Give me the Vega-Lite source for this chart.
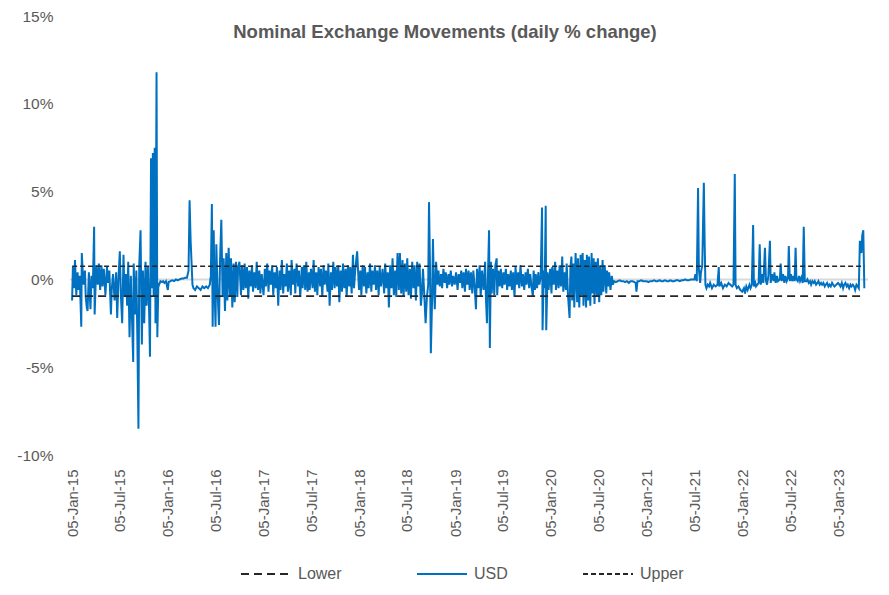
{
  "$schema": "https://vega.github.io/schema/vega-lite/v6.json",
  "autosize": {"type": "none"},
  "width": 798,
  "height": 439,
  "padding": {"left": 70, "top": 16, "right": 21, "bottom": 140},
  "background": "white",
  "title": {
    "text": "Nominal Exchange Movements (daily % change)",
    "font": "Liberation Sans",
    "fontSize": 18.5,
    "fontWeight": "bold",
    "color": "#595959",
    "anchor": "middle",
    "offset": 0,
    "dy": 32,
    "dx": -24
  },
  "datasets": {
    "usd": [
      {"d":"2015-01-05","v":-1.2,"s":"USD"},{"d":"2015-01-08","v":0.7,"s":"USD"},{"d":"2015-01-12","v":-0.5,"s":"USD"},{"d":"2015-01-16","v":1.1,"s":"USD"},{"d":"2015-01-21","v":-0.9,"s":"USD"},{"d":"2015-01-26","v":0.4,"s":"USD"},{"d":"2015-01-29","v":-0.6,"s":"USD"},
      {"d":"2015-02-03","v":0.2,"s":"USD"},{"d":"2015-02-09","v":-2.7,"s":"USD"},{"d":"2015-02-11","v":1.5,"s":"USD"},{"d":"2015-02-17","v":-0.3,"s":"USD"},{"d":"2015-02-23","v":0.5,"s":"USD"},{"d":"2015-02-26","v":-1.0,"s":"USD"},
      {"d":"2015-03-02","v":-1.6,"s":"USD"},{"d":"2015-03-05","v":-1.8,"s":"USD"},{"d":"2015-03-10","v":0.4,"s":"USD"},{"d":"2015-03-16","v":-1.7,"s":"USD"},{"d":"2015-03-20","v":0.2,"s":"USD"},{"d":"2015-03-25","v":-0.5,"s":"USD"},{"d":"2015-03-30","v":3.0,"s":"USD"},
      {"d":"2015-04-01","v":-2.0,"s":"USD"},{"d":"2015-04-07","v":0.8,"s":"USD"},{"d":"2015-04-13","v":-0.3,"s":"USD"},{"d":"2015-04-17","v":0.9,"s":"USD"},{"d":"2015-04-22","v":-0.6,"s":"USD"},{"d":"2015-04-27","v":0.8,"s":"USD"},
      {"d":"2015-05-01","v":-0.4,"s":"USD"},{"d":"2015-05-06","v":0.6,"s":"USD"},{"d":"2015-05-12","v":-0.9,"s":"USD"},{"d":"2015-05-18","v":0.7,"s":"USD"},{"d":"2015-05-22","v":-0.2,"s":"USD"},{"d":"2015-05-27","v":0.5,"s":"USD"},
      {"d":"2015-06-02","v":-2.0,"s":"USD"},{"d":"2015-06-05","v":-0.6,"s":"USD"},{"d":"2015-06-10","v":0.3,"s":"USD"},{"d":"2015-06-16","v":-1.2,"s":"USD"},{"d":"2015-06-22","v":0.4,"s":"USD"},{"d":"2015-06-26","v":-2.2,"s":"USD"},
      {"d":"2015-07-01","v":0.1,"s":"USD"},{"d":"2015-07-06","v":1.6,"s":"USD"},{"d":"2015-07-10","v":-0.9,"s":"USD"},{"d":"2015-07-15","v":-2.5,"s":"USD"},{"d":"2015-07-20","v":1.4,"s":"USD"},{"d":"2015-07-24","v":-1.0,"s":"USD"},{"d":"2015-07-29","v":0.3,"s":"USD"},
      {"d":"2015-08-03","v":-1.5,"s":"USD"},{"d":"2015-08-07","v":1.0,"s":"USD"},{"d":"2015-08-12","v":-3.3,"s":"USD"},{"d":"2015-08-17","v":0.2,"s":"USD"},{"d":"2015-08-21","v":-2.0,"s":"USD"},{"d":"2015-08-26","v":-4.7,"s":"USD"},{"d":"2015-08-28","v":0.9,"s":"USD"},
      {"d":"2015-09-02","v":-2.0,"s":"USD"},{"d":"2015-09-07","v":0.5,"s":"USD"},{"d":"2015-09-11","v":-3.5,"s":"USD"},{"d":"2015-09-15","v":-8.5,"s":"USD"},{"d":"2015-09-18","v":0.8,"s":"USD"},{"d":"2015-09-23","v":2.8,"s":"USD"},{"d":"2015-09-28","v":-3.7,"s":"USD"},
      {"d":"2015-10-02","v":0.5,"s":"USD"},{"d":"2015-10-07","v":-2.5,"s":"USD"},{"d":"2015-10-12","v":1.0,"s":"USD"},{"d":"2015-10-16","v":-1.5,"s":"USD"},{"d":"2015-10-21","v":0.7,"s":"USD"},{"d":"2015-10-26","v":-2.0,"s":"USD"},{"d":"2015-10-29","v":-4.4,"s":"USD"},
      {"d":"2015-11-02","v":6.9,"s":"USD"},{"d":"2015-11-05","v":-0.5,"s":"USD"},{"d":"2015-11-09","v":7.2,"s":"USD"},{"d":"2015-11-12","v":-1.0,"s":"USD"},{"d":"2015-11-16","v":7.5,"s":"USD"},{"d":"2015-11-19","v":-2.5,"s":"USD"},{"d":"2015-11-23","v":11.8,"s":"USD"},{"d":"2015-11-26","v":-3.3,"s":"USD"},{"d":"2015-11-30","v":-0.2,"s":"USD"},
      {"d":"2015-12-03","v":-0.3,"s":"USD"},{"d":"2015-12-08","v":-0.1,"s":"USD"},{"d":"2015-12-14","v":-0.15,"s":"USD"},{"d":"2015-12-18","v":-0.1,"s":"USD"},{"d":"2015-12-23","v":-0.2,"s":"USD"},{"d":"2015-12-29","v":-0.1,"s":"USD"},
      {"d":"2016-01-05","v":-0.6,"s":"USD"},{"d":"2016-01-08","v":-0.15,"s":"USD"},{"d":"2016-01-15","v":-0.1,"s":"USD"},{"d":"2016-01-22","v":-0.05,"s":"USD"},{"d":"2016-01-29","v":-0.1,"s":"USD"},
      {"d":"2016-02-05","v":0.0,"s":"USD"},{"d":"2016-02-12","v":-0.05,"s":"USD"},{"d":"2016-02-19","v":0.0,"s":"USD"},{"d":"2016-02-26","v":0.05,"s":"USD"},
      {"d":"2016-03-04","v":0.05,"s":"USD"},{"d":"2016-03-11","v":0.1,"s":"USD"},{"d":"2016-03-18","v":0.1,"s":"USD"},{"d":"2016-03-24","v":0.5,"s":"USD"},{"d":"2016-03-28","v":4.5,"s":"USD"},
      {"d":"2016-04-01","v":2.2,"s":"USD"},{"d":"2016-04-05","v":0.8,"s":"USD"},{"d":"2016-04-08","v":-0.3,"s":"USD"},{"d":"2016-04-12","v":-0.5,"s":"USD"},{"d":"2016-04-18","v":-0.6,"s":"USD"},{"d":"2016-04-25","v":-0.4,"s":"USD"},
      {"d":"2016-05-02","v":-0.5,"s":"USD"},{"d":"2016-05-09","v":-0.6,"s":"USD"},{"d":"2016-05-16","v":-0.4,"s":"USD"},{"d":"2016-05-23","v":-0.5,"s":"USD"},{"d":"2016-05-30","v":-0.4,"s":"USD"},
      {"d":"2016-06-06","v":-0.5,"s":"USD"},{"d":"2016-06-13","v":-0.3,"s":"USD"},{"d":"2016-06-17","v":0.2,"s":"USD"},{"d":"2016-06-21","v":4.3,"s":"USD"},{"d":"2016-06-24","v":-2.7,"s":"USD"},{"d":"2016-06-28","v":2.8,"s":"USD"},
      {"d":"2016-07-01","v":-0.5,"s":"USD"},{"d":"2016-07-05","v":-2.7,"s":"USD"},{"d":"2016-07-08","v":2.0,"s":"USD"},{"d":"2016-07-13","v":-0.8,"s":"USD"},{"d":"2016-07-18","v":-2.6,"s":"USD"},{"d":"2016-07-22","v":1.0,"s":"USD"},{"d":"2016-07-27","v":3.4,"s":"USD"},
      {"d":"2016-08-01","v":-1.0,"s":"USD"},{"d":"2016-08-05","v":1.2,"s":"USD"},{"d":"2016-08-10","v":-1.8,"s":"USD"},{"d":"2016-08-15","v":1.5,"s":"USD"},{"d":"2016-08-19","v":-1.2,"s":"USD"},{"d":"2016-08-24","v":1.8,"s":"USD"},{"d":"2016-08-29","v":-1.0,"s":"USD"},
      {"d":"2016-09-02","v":1.2,"s":"USD"},{"d":"2016-09-07","v":-1.6,"s":"USD"},{"d":"2016-09-12","v":0.9,"s":"USD"},{"d":"2016-09-16","v":-1.3,"s":"USD"},{"d":"2016-09-21","v":1.0,"s":"USD"},{"d":"2016-09-26","v":-1.0,"s":"USD"},{"d":"2016-09-29","v":0.7,"s":"USD"},
      {"d":"2016-10-04","v":1.0,"s":"USD"},{"d":"2016-10-10","v":-0.9,"s":"USD"},{"d":"2016-10-14","v":0.8,"s":"USD"},{"d":"2016-10-19","v":-0.6,"s":"USD"},{"d":"2016-10-24","v":0.9,"s":"USD"},{"d":"2016-10-28","v":-0.5,"s":"USD"},
      {"d":"2016-11-02","v":0.7,"s":"USD"},{"d":"2016-11-07","v":-1.1,"s":"USD"},{"d":"2016-11-11","v":0.5,"s":"USD"},{"d":"2016-11-16","v":-0.4,"s":"USD"},{"d":"2016-11-21","v":0.8,"s":"USD"},{"d":"2016-11-25","v":-0.7,"s":"USD"},{"d":"2016-11-30","v":0.4,"s":"USD"},
      {"d":"2016-12-05","v":-0.5,"s":"USD"},{"d":"2016-12-09","v":1.0,"s":"USD"},{"d":"2016-12-14","v":-0.6,"s":"USD"},{"d":"2016-12-19","v":0.5,"s":"USD"},{"d":"2016-12-23","v":-0.8,"s":"USD"},{"d":"2016-12-28","v":0.3,"s":"USD"},
      {"d":"2017-01-04","v":-0.9,"s":"USD"},{"d":"2017-01-09","v":0.6,"s":"USD"},{"d":"2017-01-13","v":-0.4,"s":"USD"},{"d":"2017-01-18","v":0.9,"s":"USD"},{"d":"2017-01-23","v":-0.7,"s":"USD"},{"d":"2017-01-27","v":0.5,"s":"USD"},
      {"d":"2017-02-01","v":-0.3,"s":"USD"},{"d":"2017-02-06","v":0.8,"s":"USD"},{"d":"2017-02-10","v":-0.9,"s":"USD"},{"d":"2017-02-15","v":0.4,"s":"USD"},{"d":"2017-02-20","v":-0.5,"s":"USD"},{"d":"2017-02-24","v":0.7,"s":"USD"},
      {"d":"2017-03-01","v":-1.5,"s":"USD"},{"d":"2017-03-06","v":0.5,"s":"USD"},{"d":"2017-03-10","v":-0.6,"s":"USD"},{"d":"2017-03-15","v":1.1,"s":"USD"},{"d":"2017-03-20","v":-0.8,"s":"USD"},{"d":"2017-03-24","v":0.3,"s":"USD"},{"d":"2017-03-29","v":-0.4,"s":"USD"},
      {"d":"2017-04-03","v":0.9,"s":"USD"},{"d":"2017-04-07","v":-0.7,"s":"USD"},{"d":"2017-04-12","v":0.5,"s":"USD"},{"d":"2017-04-18","v":-0.9,"s":"USD"},{"d":"2017-04-21","v":1.1,"s":"USD"},{"d":"2017-04-26","v":-0.3,"s":"USD"},
      {"d":"2017-05-02","v":0.6,"s":"USD"},{"d":"2017-05-05","v":-0.8,"s":"USD"},{"d":"2017-05-10","v":0.9,"s":"USD"},{"d":"2017-05-16","v":-0.4,"s":"USD"},{"d":"2017-05-19","v":0.5,"s":"USD"},{"d":"2017-05-24","v":-1.0,"s":"USD"},{"d":"2017-05-30","v":0.7,"s":"USD"},
      {"d":"2017-06-02","v":-0.5,"s":"USD"},{"d":"2017-06-07","v":0.8,"s":"USD"},{"d":"2017-06-12","v":-0.6,"s":"USD"},{"d":"2017-06-16","v":1.0,"s":"USD"},{"d":"2017-06-21","v":-0.7,"s":"USD"},{"d":"2017-06-26","v":0.4,"s":"USD"},{"d":"2017-06-29","v":-0.6,"s":"USD"},
      {"d":"2017-07-04","v":0.6,"s":"USD"},{"d":"2017-07-10","v":-0.5,"s":"USD"},{"d":"2017-07-14","v":1.1,"s":"USD"},{"d":"2017-07-19","v":-0.7,"s":"USD"},{"d":"2017-07-24","v":0.4,"s":"USD"},{"d":"2017-07-28","v":-0.9,"s":"USD"},
      {"d":"2017-08-02","v":0.7,"s":"USD"},{"d":"2017-08-08","v":-0.4,"s":"USD"},{"d":"2017-08-11","v":0.6,"s":"USD"},{"d":"2017-08-16","v":-1.0,"s":"USD"},{"d":"2017-08-21","v":0.8,"s":"USD"},{"d":"2017-08-25","v":-0.3,"s":"USD"},{"d":"2017-08-30","v":0.5,"s":"USD"},
      {"d":"2017-09-05","v":-0.7,"s":"USD"},{"d":"2017-09-08","v":0.9,"s":"USD"},{"d":"2017-09-13","v":-1.5,"s":"USD"},{"d":"2017-09-18","v":0.4,"s":"USD"},{"d":"2017-09-22","v":-0.6,"s":"USD"},{"d":"2017-09-27","v":1.0,"s":"USD"},
      {"d":"2017-10-02","v":-0.5,"s":"USD"},{"d":"2017-10-06","v":0.7,"s":"USD"},{"d":"2017-10-11","v":-0.4,"s":"USD"},{"d":"2017-10-16","v":0.8,"s":"USD"},{"d":"2017-10-20","v":-1.3,"s":"USD"},{"d":"2017-10-25","v":0.5,"s":"USD"},{"d":"2017-10-30","v":-0.7,"s":"USD"},
      {"d":"2017-11-03","v":0.9,"s":"USD"},{"d":"2017-11-08","v":-0.5,"s":"USD"},{"d":"2017-11-13","v":0.6,"s":"USD"},{"d":"2017-11-17","v":-1.0,"s":"USD"},{"d":"2017-11-22","v":0.8,"s":"USD"},{"d":"2017-11-27","v":-0.4,"s":"USD"},
      {"d":"2017-12-01","v":0.7,"s":"USD"},{"d":"2017-12-06","v":-0.8,"s":"USD"},{"d":"2017-12-11","v":1.4,"s":"USD"},{"d":"2017-12-15","v":-0.5,"s":"USD"},{"d":"2017-12-20","v":0.6,"s":"USD"},{"d":"2017-12-27","v":1.6,"s":"USD"},
      {"d":"2018-01-03","v":-0.6,"s":"USD"},{"d":"2018-01-08","v":0.5,"s":"USD"},{"d":"2018-01-12","v":-0.9,"s":"USD"},{"d":"2018-01-17","v":0.8,"s":"USD"},{"d":"2018-01-22","v":-0.4,"s":"USD"},{"d":"2018-01-26","v":0.7,"s":"USD"},{"d":"2018-01-31","v":-0.8,"s":"USD"},
      {"d":"2018-02-05","v":0.4,"s":"USD"},{"d":"2018-02-09","v":-0.5,"s":"USD"},{"d":"2018-02-14","v":0.9,"s":"USD"},{"d":"2018-02-19","v":-0.7,"s":"USD"},{"d":"2018-02-23","v":0.5,"s":"USD"},{"d":"2018-02-28","v":-0.3,"s":"USD"},
      {"d":"2018-03-05","v":0.8,"s":"USD"},{"d":"2018-03-09","v":-0.6,"s":"USD"},{"d":"2018-03-14","v":0.5,"s":"USD"},{"d":"2018-03-19","v":-0.9,"s":"USD"},{"d":"2018-03-23","v":0.7,"s":"USD"},{"d":"2018-03-28","v":-0.4,"s":"USD"},
      {"d":"2018-04-03","v":0.6,"s":"USD"},{"d":"2018-04-09","v":-0.8,"s":"USD"},{"d":"2018-04-13","v":0.9,"s":"USD"},{"d":"2018-04-18","v":-0.5,"s":"USD"},{"d":"2018-04-23","v":0.4,"s":"USD"},{"d":"2018-04-27","v":-1.6,"s":"USD"},
      {"d":"2018-05-02","v":0.8,"s":"USD"},{"d":"2018-05-07","v":-0.5,"s":"USD"},{"d":"2018-05-11","v":1.2,"s":"USD"},{"d":"2018-05-16","v":-0.9,"s":"USD"},{"d":"2018-05-21","v":0.5,"s":"USD"},{"d":"2018-05-25","v":-1.0,"s":"USD"},{"d":"2018-05-30","v":1.5,"s":"USD"},
      {"d":"2018-06-04","v":-0.6,"s":"USD"},{"d":"2018-06-08","v":1.5,"s":"USD"},{"d":"2018-06-13","v":-0.8,"s":"USD"},{"d":"2018-06-18","v":1.1,"s":"USD"},{"d":"2018-06-22","v":-1.0,"s":"USD"},{"d":"2018-06-27","v":0.9,"s":"USD"},
      {"d":"2018-07-02","v":-0.7,"s":"USD"},{"d":"2018-07-06","v":1.2,"s":"USD"},{"d":"2018-07-11","v":-0.9,"s":"USD"},{"d":"2018-07-16","v":0.6,"s":"USD"},{"d":"2018-07-20","v":-1.1,"s":"USD"},{"d":"2018-07-25","v":1.0,"s":"USD"},{"d":"2018-07-30","v":-0.5,"s":"USD"},
      {"d":"2018-08-03","v":0.8,"s":"USD"},{"d":"2018-08-08","v":-1.2,"s":"USD"},{"d":"2018-08-13","v":1.0,"s":"USD"},{"d":"2018-08-17","v":-0.4,"s":"USD"},{"d":"2018-08-22","v":0.9,"s":"USD"},{"d":"2018-08-27","v":-1.5,"s":"USD"},{"d":"2018-08-31","v":-0.8,"s":"USD"},
      {"d":"2018-09-04","v":0.6,"s":"USD"},{"d":"2018-09-10","v":-1.2,"s":"USD"},{"d":"2018-09-14","v":-2.5,"s":"USD"},{"d":"2018-09-19","v":-1.0,"s":"USD"},{"d":"2018-09-24","v":-0.3,"s":"USD"},{"d":"2018-09-27","v":4.4,"s":"USD"},
      {"d":"2018-10-01","v":0.5,"s":"USD"},{"d":"2018-10-04","v":-4.2,"s":"USD"},{"d":"2018-10-09","v":-1.0,"s":"USD"},{"d":"2018-10-12","v":2.3,"s":"USD"},{"d":"2018-10-16","v":-0.5,"s":"USD"},{"d":"2018-10-19","v":-1.7,"s":"USD"},{"d":"2018-10-24","v":1.0,"s":"USD"},{"d":"2018-10-29","v":-0.3,"s":"USD"},
      {"d":"2018-11-02","v":0.5,"s":"USD"},{"d":"2018-11-07","v":-0.4,"s":"USD"},{"d":"2018-11-12","v":0.3,"s":"USD"},{"d":"2018-11-16","v":-0.5,"s":"USD"},{"d":"2018-11-21","v":0.6,"s":"USD"},{"d":"2018-11-26","v":-0.2,"s":"USD"},{"d":"2018-11-30","v":0.4,"s":"USD"},
      {"d":"2018-12-05","v":-0.5,"s":"USD"},{"d":"2018-12-10","v":0.3,"s":"USD"},{"d":"2018-12-14","v":-0.3,"s":"USD"},{"d":"2018-12-19","v":0.5,"s":"USD"},{"d":"2018-12-24","v":-0.4,"s":"USD"},{"d":"2018-12-28","v":0.2,"s":"USD"},
      {"d":"2019-01-03","v":-0.3,"s":"USD"},{"d":"2019-01-08","v":0.4,"s":"USD"},{"d":"2019-01-14","v":-0.6,"s":"USD"},{"d":"2019-01-18","v":0.3,"s":"USD"},{"d":"2019-01-23","v":-0.2,"s":"USD"},{"d":"2019-01-28","v":0.5,"s":"USD"},
      {"d":"2019-02-01","v":-0.5,"s":"USD"},{"d":"2019-02-06","v":0.4,"s":"USD"},{"d":"2019-02-11","v":-0.7,"s":"USD"},{"d":"2019-02-15","v":0.6,"s":"USD"},{"d":"2019-02-20","v":-0.3,"s":"USD"},{"d":"2019-02-25","v":0.5,"s":"USD"},
      {"d":"2019-03-01","v":-0.6,"s":"USD"},{"d":"2019-03-06","v":0.4,"s":"USD"},{"d":"2019-03-11","v":-0.8,"s":"USD"},{"d":"2019-03-15","v":0.5,"s":"USD"},{"d":"2019-03-20","v":-0.4,"s":"USD"},{"d":"2019-03-25","v":-1.7,"s":"USD"},{"d":"2019-03-29","v":0.6,"s":"USD"},
      {"d":"2019-04-03","v":-0.5,"s":"USD"},{"d":"2019-04-08","v":0.8,"s":"USD"},{"d":"2019-04-12","v":-1.0,"s":"USD"},{"d":"2019-04-17","v":0.5,"s":"USD"},{"d":"2019-04-23","v":-0.6,"s":"USD"},{"d":"2019-04-29","v":1.0,"s":"USD"},
      {"d":"2019-05-02","v":-1.0,"s":"USD"},{"d":"2019-05-06","v":-2.5,"s":"USD"},{"d":"2019-05-10","v":0.4,"s":"USD"},{"d":"2019-05-14","v":2.8,"s":"USD"},{"d":"2019-05-17","v":-3.9,"s":"USD"},{"d":"2019-05-21","v":1.0,"s":"USD"},{"d":"2019-05-24","v":-0.8,"s":"USD"},{"d":"2019-05-29","v":0.6,"s":"USD"},
      {"d":"2019-06-03","v":-0.9,"s":"USD"},{"d":"2019-06-07","v":0.8,"s":"USD"},{"d":"2019-06-12","v":1.2,"s":"USD"},{"d":"2019-06-14","v":-0.9,"s":"USD"},{"d":"2019-06-19","v":0.5,"s":"USD"},{"d":"2019-06-24","v":-0.4,"s":"USD"},{"d":"2019-06-28","v":0.6,"s":"USD"},
      {"d":"2019-07-03","v":-0.5,"s":"USD"},{"d":"2019-07-08","v":0.4,"s":"USD"},{"d":"2019-07-12","v":-0.3,"s":"USD"},{"d":"2019-07-17","v":0.6,"s":"USD"},{"d":"2019-07-22","v":-0.6,"s":"USD"},{"d":"2019-07-26","v":0.3,"s":"USD"},{"d":"2019-07-31","v":-0.4,"s":"USD"},
      {"d":"2019-08-05","v":0.5,"s":"USD"},{"d":"2019-08-09","v":-0.6,"s":"USD"},{"d":"2019-08-14","v":0.4,"s":"USD"},{"d":"2019-08-19","v":-1.0,"s":"USD"},{"d":"2019-08-23","v":0.7,"s":"USD"},{"d":"2019-08-28","v":-0.3,"s":"USD"},
      {"d":"2019-09-02","v":0.4,"s":"USD"},{"d":"2019-09-06","v":-0.5,"s":"USD"},{"d":"2019-09-11","v":0.8,"s":"USD"},{"d":"2019-09-16","v":-0.4,"s":"USD"},{"d":"2019-09-20","v":0.3,"s":"USD"},{"d":"2019-09-25","v":-0.6,"s":"USD"},{"d":"2019-09-30","v":0.4,"s":"USD"},
      {"d":"2019-10-04","v":-0.3,"s":"USD"},{"d":"2019-10-09","v":0.6,"s":"USD"},{"d":"2019-10-14","v":-0.5,"s":"USD"},{"d":"2019-10-18","v":0.3,"s":"USD"},{"d":"2019-10-23","v":-0.4,"s":"USD"},{"d":"2019-10-28","v":-1.0,"s":"USD"},{"d":"2019-10-31","v":0.5,"s":"USD"},
      {"d":"2019-11-05","v":-0.6,"s":"USD"},{"d":"2019-11-08","v":0.3,"s":"USD"},{"d":"2019-11-13","v":-0.5,"s":"USD"},{"d":"2019-11-18","v":0.4,"s":"USD"},{"d":"2019-11-22","v":-0.3,"s":"USD"},{"d":"2019-11-27","v":0.2,"s":"USD"},
      {"d":"2019-12-02","v":4.1,"s":"USD"},{"d":"2019-12-04","v":-2.9,"s":"USD"},{"d":"2019-12-09","v":0.5,"s":"USD"},{"d":"2019-12-12","v":-0.5,"s":"USD"},{"d":"2019-12-16","v":4.2,"s":"USD"},{"d":"2019-12-18","v":-2.9,"s":"USD"},{"d":"2019-12-23","v":0.4,"s":"USD"},{"d":"2019-12-27","v":-0.6,"s":"USD"},
      {"d":"2020-01-02","v":0.6,"s":"USD"},{"d":"2020-01-07","v":-0.8,"s":"USD"},{"d":"2020-01-10","v":0.7,"s":"USD"},{"d":"2020-01-15","v":-0.3,"s":"USD"},{"d":"2020-01-21","v":1.0,"s":"USD"},{"d":"2020-01-24","v":-0.6,"s":"USD"},{"d":"2020-01-29","v":0.5,"s":"USD"},
      {"d":"2020-02-03","v":-0.5,"s":"USD"},{"d":"2020-02-07","v":0.8,"s":"USD"},{"d":"2020-02-12","v":-0.4,"s":"USD"},{"d":"2020-02-17","v":1.3,"s":"USD"},{"d":"2020-02-21","v":-0.7,"s":"USD"},{"d":"2020-02-26","v":0.4,"s":"USD"},
      {"d":"2020-03-02","v":-0.6,"s":"USD"},{"d":"2020-03-05","v":0.9,"s":"USD"},{"d":"2020-03-10","v":-0.9,"s":"USD"},{"d":"2020-03-16","v":-2.2,"s":"USD"},{"d":"2020-03-19","v":0.6,"s":"USD"},{"d":"2020-03-23","v":1.3,"s":"USD"},{"d":"2020-03-26","v":-1.2,"s":"USD"},{"d":"2020-03-31","v":0.9,"s":"USD"},
      {"d":"2020-04-03","v":-1.6,"s":"USD"},{"d":"2020-04-08","v":1.5,"s":"USD"},{"d":"2020-04-14","v":-1.3,"s":"USD"},{"d":"2020-04-17","v":1.2,"s":"USD"},{"d":"2020-04-22","v":-1.6,"s":"USD"},{"d":"2020-04-27","v":1.4,"s":"USD"},{"d":"2020-04-30","v":-0.9,"s":"USD"},
      {"d":"2020-05-05","v":1.5,"s":"USD"},{"d":"2020-05-08","v":-1.5,"s":"USD"},{"d":"2020-05-13","v":1.1,"s":"USD"},{"d":"2020-05-18","v":-1.6,"s":"USD"},{"d":"2020-05-21","v":1.4,"s":"USD"},{"d":"2020-05-26","v":-1.2,"s":"USD"},{"d":"2020-05-29","v":1.3,"s":"USD"},
      {"d":"2020-06-03","v":-1.5,"s":"USD"},{"d":"2020-06-08","v":1.5,"s":"USD"},{"d":"2020-06-11","v":-0.8,"s":"USD"},{"d":"2020-06-16","v":1.2,"s":"USD"},{"d":"2020-06-19","v":-1.4,"s":"USD"},{"d":"2020-06-24","v":1.0,"s":"USD"},{"d":"2020-06-29","v":-1.0,"s":"USD"},
      {"d":"2020-07-02","v":1.2,"s":"USD"},{"d":"2020-07-07","v":-1.3,"s":"USD"},{"d":"2020-07-10","v":0.8,"s":"USD"},{"d":"2020-07-15","v":-0.9,"s":"USD"},{"d":"2020-07-20","v":1.1,"s":"USD"},{"d":"2020-07-23","v":-0.7,"s":"USD"},{"d":"2020-07-28","v":0.8,"s":"USD"},
      {"d":"2020-08-03","v":-0.8,"s":"USD"},{"d":"2020-08-06","v":0.5,"s":"USD"},{"d":"2020-08-11","v":-0.4,"s":"USD"},{"d":"2020-08-14","v":0.4,"s":"USD"},{"d":"2020-08-19","v":-0.6,"s":"USD"},{"d":"2020-08-24","v":0.2,"s":"USD"},{"d":"2020-08-28","v":-0.3,"s":"USD"},
      {"d":"2020-09-02","v":-0.1,"s":"USD"},{"d":"2020-09-09","v":-0.15,"s":"USD"},{"d":"2020-09-16","v":-0.1,"s":"USD"},{"d":"2020-09-23","v":-0.05,"s":"USD"},{"d":"2020-09-30","v":-0.1,"s":"USD"},
      {"d":"2020-10-07","v":-0.1,"s":"USD"},{"d":"2020-10-14","v":-0.15,"s":"USD"},{"d":"2020-10-21","v":-0.1,"s":"USD"},{"d":"2020-10-28","v":-0.2,"s":"USD"},
      {"d":"2020-11-04","v":-0.1,"s":"USD"},{"d":"2020-11-11","v":-0.1,"s":"USD"},{"d":"2020-11-18","v":-0.15,"s":"USD"},{"d":"2020-11-23","v":-0.2,"s":"USD"},{"d":"2020-11-26","v":-0.7,"s":"USD"},{"d":"2020-11-30","v":-0.1,"s":"USD"},
      {"d":"2020-12-07","v":-0.1,"s":"USD"},{"d":"2020-12-14","v":-0.05,"s":"USD"},{"d":"2020-12-21","v":-0.1,"s":"USD"},{"d":"2020-12-28","v":-0.1,"s":"USD"},
      {"d":"2021-01-04","v":-0.1,"s":"USD"},{"d":"2021-01-11","v":-0.15,"s":"USD"},{"d":"2021-01-18","v":-0.1,"s":"USD"},{"d":"2021-01-25","v":-0.1,"s":"USD"},
      {"d":"2021-02-01","v":-0.05,"s":"USD"},{"d":"2021-02-08","v":-0.1,"s":"USD"},{"d":"2021-02-15","v":-0.1,"s":"USD"},{"d":"2021-02-22","v":-0.05,"s":"USD"},
      {"d":"2021-03-01","v":-0.1,"s":"USD"},{"d":"2021-03-08","v":-0.1,"s":"USD"},{"d":"2021-03-15","v":-0.05,"s":"USD"},{"d":"2021-03-22","v":-0.1,"s":"USD"},{"d":"2021-03-29","v":-0.1,"s":"USD"},
      {"d":"2021-04-05","v":-0.05,"s":"USD"},{"d":"2021-04-12","v":-0.1,"s":"USD"},{"d":"2021-04-19","v":-0.1,"s":"USD"},{"d":"2021-04-26","v":-0.05,"s":"USD"},
      {"d":"2021-05-03","v":-0.05,"s":"USD"},{"d":"2021-05-10","v":-0.1,"s":"USD"},{"d":"2021-05-17","v":-0.05,"s":"USD"},{"d":"2021-05-24","v":-0.05,"s":"USD"},{"d":"2021-05-31","v":0.0,"s":"USD"},
      {"d":"2021-06-07","v":-0.05,"s":"USD"},{"d":"2021-06-14","v":-0.05,"s":"USD"},{"d":"2021-06-21","v":0.0,"s":"USD"},{"d":"2021-06-28","v":0.0,"s":"USD"},
      {"d":"2021-07-05","v":0.0,"s":"USD"},{"d":"2021-07-09","v":0.3,"s":"USD"},{"d":"2021-07-14","v":-0.1,"s":"USD"},{"d":"2021-07-19","v":5.2,"s":"USD"},{"d":"2021-07-22","v":0.6,"s":"USD"},{"d":"2021-07-27","v":-0.2,"s":"USD"},{"d":"2021-07-30","v":0.4,"s":"USD"},
      {"d":"2021-08-04","v":0.8,"s":"USD"},{"d":"2021-08-10","v":5.5,"s":"USD"},{"d":"2021-08-13","v":2.2,"s":"USD"},{"d":"2021-08-16","v":-0.3,"s":"USD"},{"d":"2021-08-20","v":-0.5,"s":"USD"},{"d":"2021-08-25","v":-0.3,"s":"USD"},{"d":"2021-08-30","v":-0.4,"s":"USD"},
      {"d":"2021-09-03","v":-0.2,"s":"USD"},{"d":"2021-09-10","v":-0.5,"s":"USD"},{"d":"2021-09-17","v":-0.3,"s":"USD"},{"d":"2021-09-24","v":-0.4,"s":"USD"},
      {"d":"2021-10-01","v":-0.3,"s":"USD"},{"d":"2021-10-06","v":0.7,"s":"USD"},{"d":"2021-10-08","v":-0.4,"s":"USD"},{"d":"2021-10-15","v":-0.2,"s":"USD"},{"d":"2021-10-22","v":-0.5,"s":"USD"},{"d":"2021-10-29","v":-0.3,"s":"USD"},
      {"d":"2021-11-05","v":-0.4,"s":"USD"},{"d":"2021-11-12","v":-0.2,"s":"USD"},{"d":"2021-11-19","v":-0.3,"s":"USD"},{"d":"2021-11-26","v":-0.4,"s":"USD"},
      {"d":"2021-12-01","v":-0.3,"s":"USD"},{"d":"2021-12-06","v":6.0,"s":"USD"},{"d":"2021-12-09","v":-0.3,"s":"USD"},{"d":"2021-12-14","v":-0.5,"s":"USD"},{"d":"2021-12-20","v":-0.4,"s":"USD"},{"d":"2021-12-27","v":-0.6,"s":"USD"},
      {"d":"2022-01-03","v":-0.7,"s":"USD"},{"d":"2022-01-10","v":-0.5,"s":"USD"},{"d":"2022-01-14","v":-0.8,"s":"USD"},{"d":"2022-01-19","v":-0.4,"s":"USD"},{"d":"2022-01-24","v":-0.6,"s":"USD"},{"d":"2022-01-31","v":-0.3,"s":"USD"},
      {"d":"2022-02-04","v":-0.5,"s":"USD"},{"d":"2022-02-09","v":-0.3,"s":"USD"},{"d":"2022-02-14","v":3.1,"s":"USD"},{"d":"2022-02-17","v":-0.4,"s":"USD"},{"d":"2022-02-22","v":-0.2,"s":"USD"},{"d":"2022-02-25","v":-0.4,"s":"USD"},
      {"d":"2022-03-02","v":-0.3,"s":"USD"},{"d":"2022-03-07","v":-0.2,"s":"USD"},{"d":"2022-03-11","v":2.0,"s":"USD"},{"d":"2022-03-15","v":-0.3,"s":"USD"},{"d":"2022-03-21","v":0.3,"s":"USD"},{"d":"2022-03-25","v":-0.2,"s":"USD"},{"d":"2022-03-31","v":1.8,"s":"USD"},
      {"d":"2022-04-04","v":-0.1,"s":"USD"},{"d":"2022-04-08","v":-0.3,"s":"USD"},{"d":"2022-04-13","v":0.2,"s":"USD"},{"d":"2022-04-19","v":2.2,"s":"USD"},{"d":"2022-04-22","v":-0.2,"s":"USD"},{"d":"2022-04-27","v":0.3,"s":"USD"},
      {"d":"2022-05-03","v":-0.1,"s":"USD"},{"d":"2022-05-06","v":0.4,"s":"USD"},{"d":"2022-05-11","v":-0.2,"s":"USD"},{"d":"2022-05-16","v":0.2,"s":"USD"},{"d":"2022-05-20","v":-0.1,"s":"USD"},{"d":"2022-05-27","v":0.0,"s":"USD"},{"d":"2022-05-30","v":0.9,"s":"USD"},
      {"d":"2022-06-03","v":-0.1,"s":"USD"},{"d":"2022-06-08","v":0.3,"s":"USD"},{"d":"2022-06-13","v":-0.2,"s":"USD"},{"d":"2022-06-17","v":0.2,"s":"USD"},{"d":"2022-06-22","v":-0.1,"s":"USD"},{"d":"2022-06-27","v":0.1,"s":"USD"},{"d":"2022-06-30","v":1.9,"s":"USD"},
      {"d":"2022-07-04","v":-0.1,"s":"USD"},{"d":"2022-07-08","v":0.3,"s":"USD"},{"d":"2022-07-13","v":-0.1,"s":"USD"},{"d":"2022-07-18","v":0.2,"s":"USD"},{"d":"2022-07-22","v":-0.1,"s":"USD"},{"d":"2022-07-26","v":1.8,"s":"USD"},{"d":"2022-07-29","v":0.0,"s":"USD"},
      {"d":"2022-08-03","v":-0.1,"s":"USD"},{"d":"2022-08-08","v":0.2,"s":"USD"},{"d":"2022-08-12","v":-0.1,"s":"USD"},{"d":"2022-08-17","v":0.1,"s":"USD"},{"d":"2022-08-22","v":-0.2,"s":"USD"},{"d":"2022-08-26","v":3.0,"s":"USD"},{"d":"2022-08-30","v":-0.1,"s":"USD"},
      {"d":"2022-09-05","v":-0.1,"s":"USD"},{"d":"2022-09-09","v":0.0,"s":"USD"},{"d":"2022-09-14","v":-0.2,"s":"USD"},{"d":"2022-09-19","v":-0.1,"s":"USD"},{"d":"2022-09-23","v":-0.3,"s":"USD"},{"d":"2022-09-28","v":-0.1,"s":"USD"},
      {"d":"2022-10-03","v":-0.2,"s":"USD"},{"d":"2022-10-07","v":-0.1,"s":"USD"},{"d":"2022-10-12","v":-0.3,"s":"USD"},{"d":"2022-10-17","v":-0.2,"s":"USD"},{"d":"2022-10-21","v":-0.1,"s":"USD"},{"d":"2022-10-26","v":-0.3,"s":"USD"},{"d":"2022-10-31","v":-0.2,"s":"USD"},
      {"d":"2022-11-04","v":-0.3,"s":"USD"},{"d":"2022-11-09","v":-0.2,"s":"USD"},{"d":"2022-11-14","v":-0.4,"s":"USD"},{"d":"2022-11-18","v":-0.3,"s":"USD"},{"d":"2022-11-23","v":-0.2,"s":"USD"},{"d":"2022-11-28","v":-0.4,"s":"USD"},
      {"d":"2022-12-02","v":-0.3,"s":"USD"},{"d":"2022-12-07","v":-0.4,"s":"USD"},{"d":"2022-12-12","v":-0.2,"s":"USD"},{"d":"2022-12-16","v":-0.3,"s":"USD"},{"d":"2022-12-21","v":-0.4,"s":"USD"},{"d":"2022-12-28","v":-0.3,"s":"USD"},
      {"d":"2023-01-04","v":-0.2,"s":"USD"},{"d":"2023-01-09","v":-0.3,"s":"USD"},{"d":"2023-01-13","v":-0.4,"s":"USD"},{"d":"2023-01-18","v":-0.2,"s":"USD"},{"d":"2023-01-23","v":-0.5,"s":"USD"},{"d":"2023-01-27","v":-0.3,"s":"USD"},
      {"d":"2023-02-01","v":-0.2,"s":"USD"},{"d":"2023-02-06","v":-0.4,"s":"USD"},{"d":"2023-02-10","v":-0.3,"s":"USD"},{"d":"2023-02-15","v":-0.5,"s":"USD"},{"d":"2023-02-20","v":-0.3,"s":"USD"},{"d":"2023-02-24","v":-0.4,"s":"USD"},
      {"d":"2023-03-01","v":-0.3,"s":"USD"},{"d":"2023-03-06","v":-0.4,"s":"USD"},{"d":"2023-03-10","v":-0.6,"s":"USD"},{"d":"2023-03-15","v":-0.3,"s":"USD"},{"d":"2023-03-20","v":-0.4,"s":"USD"},{"d":"2023-03-24","v":-0.5,"s":"USD"},{"d":"2023-03-28","v":2.2,"s":"USD"},
      {"d":"2023-04-03","v":1.5,"s":"USD"},{"d":"2023-04-06","v":2.5,"s":"USD"},{"d":"2023-04-10","v":2.8,"s":"USD"},{"d":"2023-04-14","v":-0.5,"s":"USD"}
    ],
    "lim": [
      {"d":"2015-01-05","v":-0.95,"s":"Lower"},{"d":"2023-04-14","v":-0.95,"s":"Lower"},
      {"d":"2015-01-05","v":0.75,"s":"Upper"},{"d":"2023-04-14","v":0.75,"s":"Upper"}
    ],
    "zero": [{"d":"2014-12-28","d2":"2023-04-28","v":0}]
  },
  "encoding": {
    "x": {
      "field": "d",
      "type": "temporal",
      "title": null,
      "scale": {
        "type": "utc",
        "domain": [
          {"year": 2014, "month": 12, "date": 28, "utc": true},
          {"year": 2023, "month": 4, "date": 28, "utc": true}
        ]
      },
      "axis": {
        "values": [
          {"year": 2015, "month": 1, "date": 5, "utc": true},
          {"year": 2015, "month": 7, "date": 5, "utc": true},
          {"year": 2016, "month": 1, "date": 5, "utc": true},
          {"year": 2016, "month": 7, "date": 5, "utc": true},
          {"year": 2017, "month": 1, "date": 5, "utc": true},
          {"year": 2017, "month": 7, "date": 5, "utc": true},
          {"year": 2018, "month": 1, "date": 5, "utc": true},
          {"year": 2018, "month": 7, "date": 5, "utc": true},
          {"year": 2019, "month": 1, "date": 5, "utc": true},
          {"year": 2019, "month": 7, "date": 5, "utc": true},
          {"year": 2020, "month": 1, "date": 5, "utc": true},
          {"year": 2020, "month": 7, "date": 5, "utc": true},
          {"year": 2021, "month": 1, "date": 5, "utc": true},
          {"year": 2021, "month": 7, "date": 5, "utc": true},
          {"year": 2022, "month": 1, "date": 5, "utc": true},
          {"year": 2022, "month": 7, "date": 5, "utc": true},
          {"year": 2023, "month": 1, "date": 5, "utc": true}
        ],
        "format": "%d-%b-%y",
        "labelAngle": -90,
        "labelPadding": 14,
        "labelFontSize": 15,
        "ticks": false,
        "domain": false,
        "grid": false,
        "labelOverlap": false,
        "labelFlush": false
      }
    },
    "y": {
      "field": "v",
      "type": "quantitative",
      "title": null,
      "scale": {"domain": [-10, 15], "nice": false, "zero": false},
      "axis": {
        "values": [-10, -5, 0, 5, 10, 15],
        "labelExpr": "datum.value + '%'",
        "labelPadding": 17,
        "labelFontSize": 15.5,
        "ticks": false,
        "domain": false,
        "grid": false
      }
    },
    "color": {
      "field": "s",
      "type": "nominal",
      "scale": {"domain": ["Lower", "USD", "Upper"], "range": ["#262626", "#0070C0", "#262626"]},
      "legend": {
        "orient": "none",
        "legendX": 170,
        "legendY": 532,
        "direction": "horizontal",
        "title": null,
        "symbolType": "stroke",
        "symbolSize": 2500,
        "symbolStrokeWidth": 2,
        "labelOffset": 6,
        "columnPadding": 71,
        "padding": 0
      }
    },
    "strokeDash": {
      "field": "s",
      "type": "nominal",
      "scale": {"domain": ["Lower", "USD", "Upper"], "range": [[8, 5], [1, 0], [5, 3]]},
      "legend": {
        "orient": "none",
        "legendX": 170,
        "legendY": 532,
        "direction": "horizontal",
        "title": null,
        "symbolType": "stroke",
        "symbolSize": 2500,
        "symbolStrokeWidth": 2,
        "labelOffset": 6,
        "columnPadding": 71,
        "padding": 0
      }
    }
  },
  "layer": [
    {
      "data": {"name": "zero"},
      "mark": {"type": "rule", "strokeWidth": 2},
      "encoding": {
        "x2": {"field": "d2"},
        "color": {"value": "#d9d9d9"},
        "strokeDash": {"value": [1, 0]}
      }
    },
    {
      "data": {"name": "usd"},
      "mark": {"type": "line", "strokeWidth": 2},
      "encoding": {}
    },
    {
      "data": {"name": "lim"},
      "mark": {"type": "line", "strokeWidth": 1.6},
      "encoding": {}
    }
  ],
  "config": {
    "view": {"stroke": null},
    "axis": {
      "labelFont": "Liberation Sans",
      "labelColor": "#595959"
    },
    "legend": {
      "labelFont": "Liberation Sans",
      "labelFontSize": 16,
      "labelColor": "#595959"
    }
  }
}
